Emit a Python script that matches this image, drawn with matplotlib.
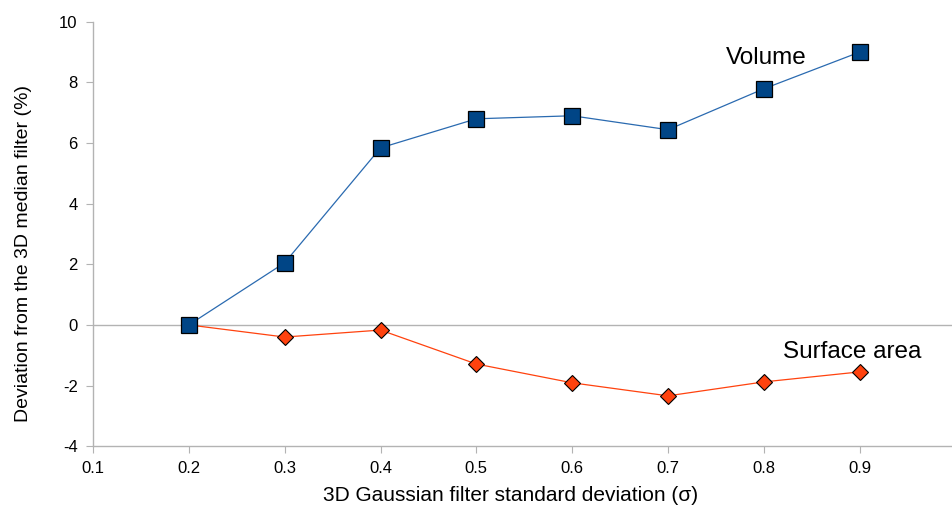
import matplotlib
matplotlib.use("Agg")
import matplotlib.pyplot as plt

plt.rcParams["font.family"] = ["Liberation Sans", "DejaVu Sans"]
plt.rcParams["axes.unicode_minus"] = False

sigma = [0.2, 0.3, 0.4, 0.5, 0.6, 0.7, 0.8, 0.9]
volume = [0.0, 2.05, 5.84, 6.80, 6.90, 6.44, 7.79, 9.0]
surface_area = [0.0, -0.40, -0.17, -1.29, -1.91, -2.34, -1.88, -1.55]
x_ticks = [0.1, 0.2, 0.3, 0.4, 0.5, 0.6, 0.7, 0.8, 0.9]
y_ticks = [-4, -2, 0, 2, 4, 6, 8, 10]

fig = plt.figure(figsize=(9.53, 5.07), dpi=100)
ax = fig.add_axes([0.0976, 0.12, 0.905, 0.837])

grey = "#b3b3b3"
ax.axhline(0, color=grey, linewidth=1, zorder=1)

ax.plot(sigma, surface_area, color="#ff420e", linewidth=0.9, marker="D",
        markersize=8, markerfacecolor="#ff420e", markeredgecolor="black",
        markeredgewidth=0.8, zorder=3)
ax.plot(sigma, volume, color="#2a6ab0", linewidth=0.9, marker="s",
        markersize=11.5, markerfacecolor="#004586", markeredgecolor="black",
        markeredgewidth=0.9, zorder=4)

ax.text(0.76, 8.81, "Volume", fontsize=17.5, va="center", ha="left")
ax.text(0.82, -0.89, "Surface area", fontsize=17.5, va="center", ha="left")

ax.set_xlim(0.1, 1.0)
ax.set_ylim(-4, 10)
ax.set_xticks(x_ticks)
ax.set_yticks(y_ticks)
ax.set_xticklabels([f"{v:.1f}" for v in x_ticks])
ax.tick_params(direction="out", length=5, color=grey, labelsize=12, pad=6)

for side in ["top", "right"]:
    ax.spines[side].set_visible(False)
for side in ["left", "bottom"]:
    ax.spines[side].set_color(grey)
    ax.spines[side].set_linewidth(1)

ax.set_xlabel("3D Gaussian filter standard deviation (σ)", fontsize=15)
ax.set_ylabel("Deviation from the 3D median filter (%)", fontsize=14)
ax.xaxis.set_label_coords(0.484, -0.093)
ax.yaxis.set_label_coords(-0.071, 0.455)

fig.savefig("out.png", dpi=100)
